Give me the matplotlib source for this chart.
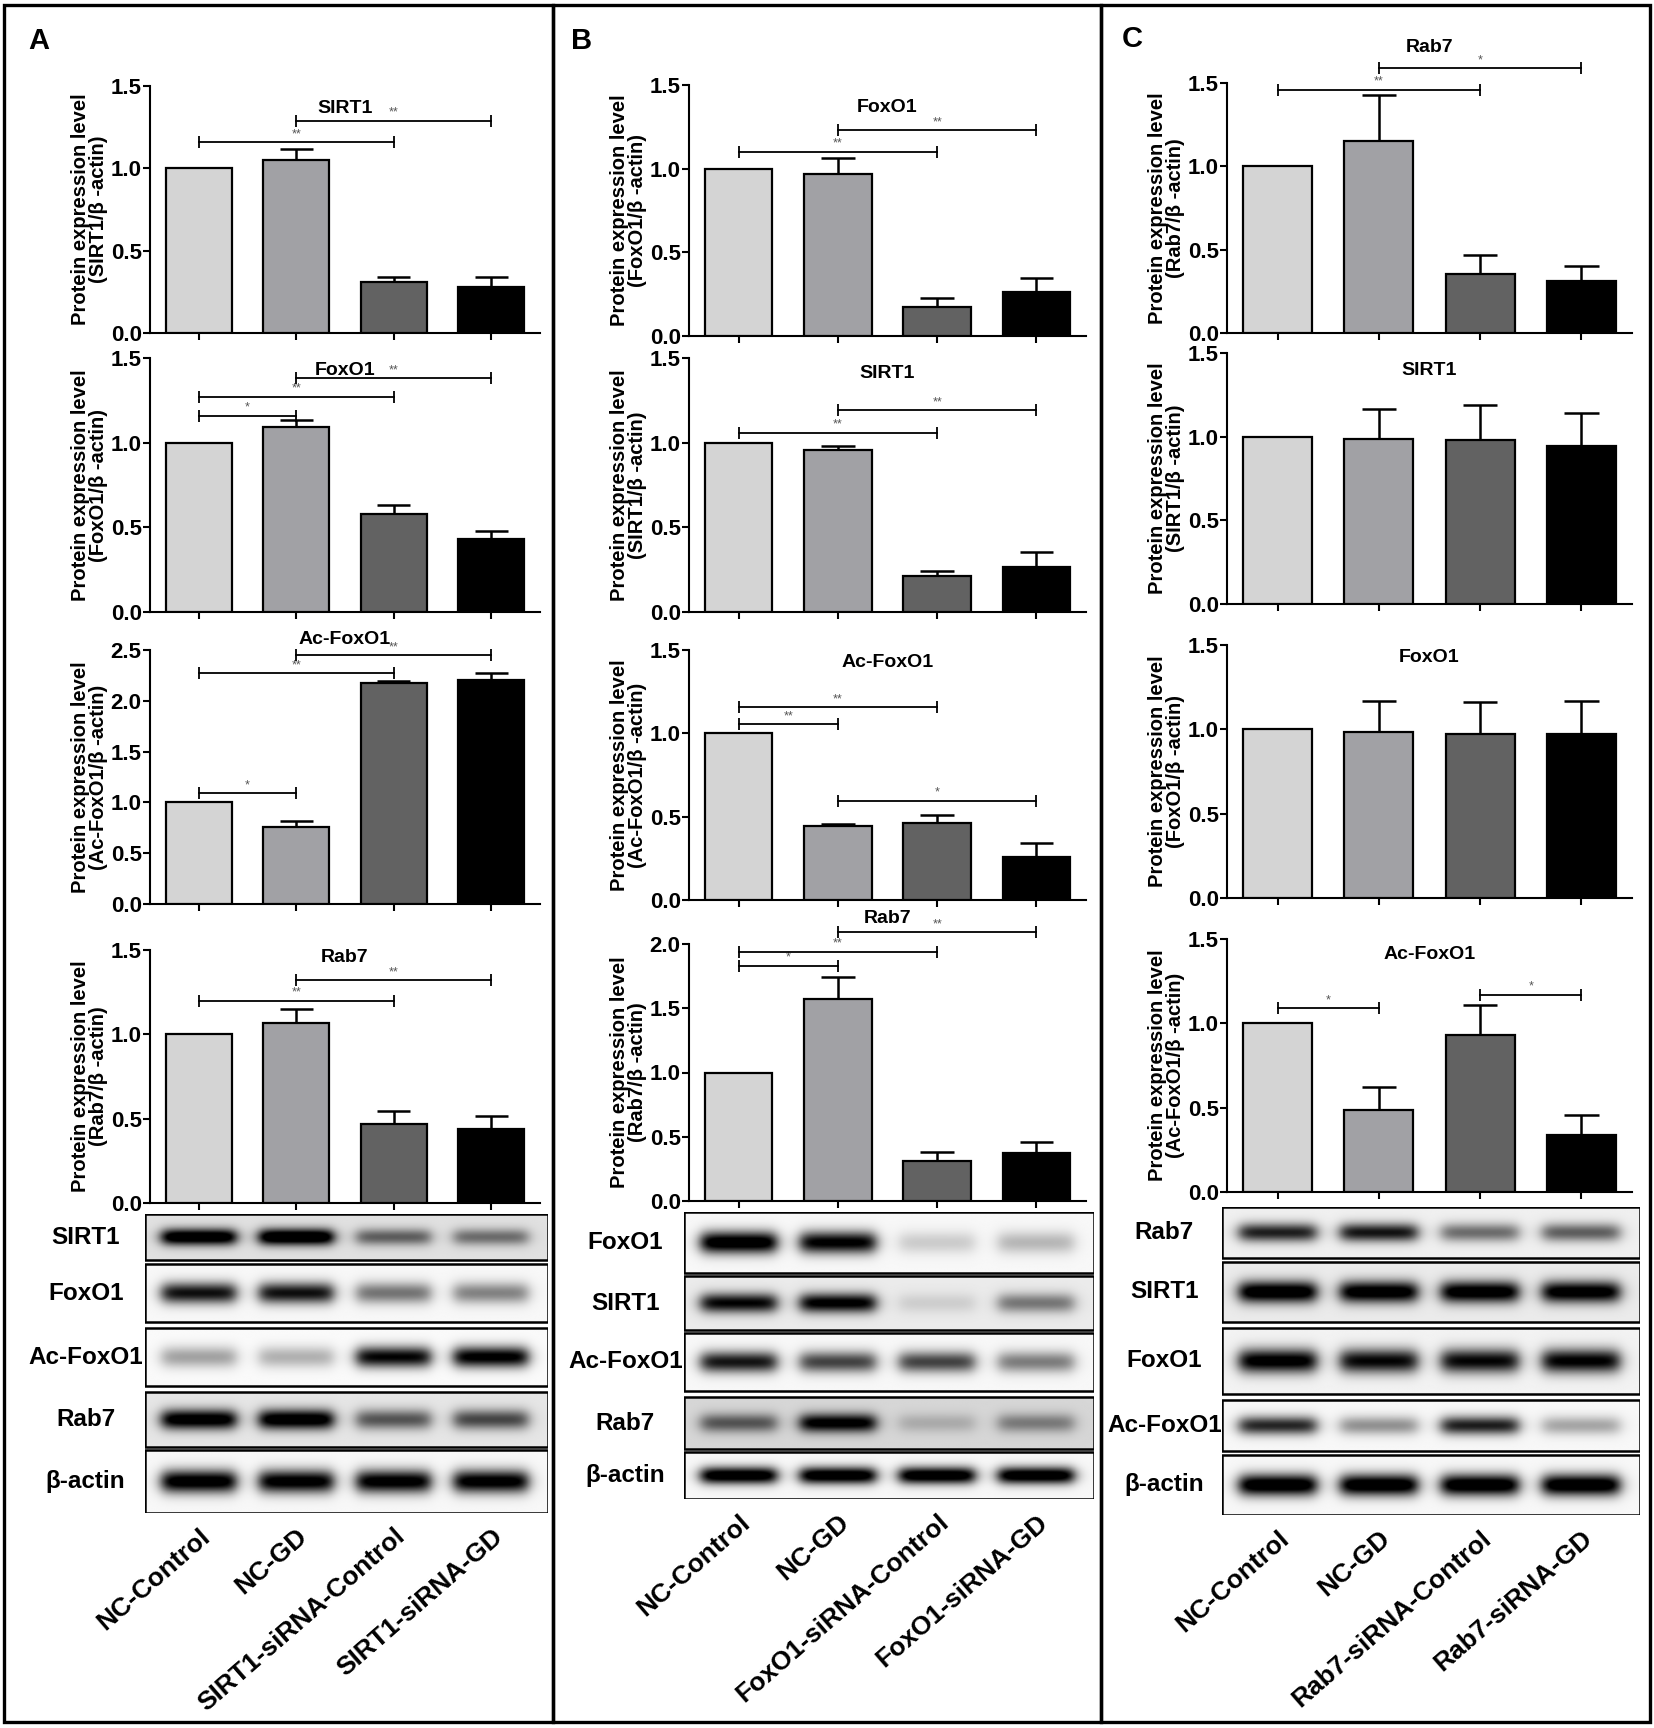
"""Recreate the SIRT1 / FoxO1 / Rab7 knock-down figure (bar charts + blots)."""

import numpy as np
import matplotlib

matplotlib.use("Agg")
import matplotlib.pyplot as plt
from matplotlib.patches import Rectangle

plt.rcParams["font.family"] = ["Liberation Sans", "DejaVu Sans"]
plt.rcParams["font.weight"] = "bold"
plt.rcParams["axes.labelweight"] = "bold"

W, H = 1654, 1728
BAR_COLORS = ["#d4d4d4", "#a1a1a5", "#626262", "#000000"]

# ---- groups -------------------------------------------------------------
GROUPS_A = ["NC-Control", "NC-GD", "SIRT1-siRNA-Control", "SIRT1-siRNA-GD"]
GROUPS_B = ["NC-Control", "NC-GD", "FoxO1-siRNA-Control", "FoxO1-siRNA-GD"]
GROUPS_C = ["NC-Control", "NC-GD", "Rab7-siRNA-Control", "Rab7-siRNA-GD"]

# ---- panel A bar data -----------------------------------------------------
A_SIRT1_MEAN = [1.00, 1.05, 0.31, 0.28]
A_SIRT1_ERR = [0.0, 0.07, 0.03, 0.06]
A_SIRT1_SIG = [(0, 2, 1.16, "**"), (1, 3, 1.29, "**")]

A_FOXO1_MEAN = [1.00, 1.09, 0.58, 0.43]
A_FOXO1_ERR = [0.0, 0.045, 0.05, 0.05]
A_FOXO1_SIG = [(0, 1, 1.16, "*"), (0, 2, 1.27, "**"), (1, 3, 1.38, "**")]

A_ACFOXO1_MEAN = [1.00, 0.76, 2.18, 2.20]
A_ACFOXO1_ERR = [0.0, 0.06, 0.015, 0.075]
A_ACFOXO1_SIG = [(0, 1, 1.09, "*"), (0, 2, 2.27, "**"), (1, 3, 2.45, "**")]

A_RAB7_MEAN = [1.00, 1.07, 0.47, 0.44]
A_RAB7_ERR = [0.0, 0.08, 0.075, 0.075]
A_RAB7_SIG = [(0, 2, 1.20, "**"), (1, 3, 1.32, "**")]

# ---- panel B bar data -----------------------------------------------------
B_FOXO1_MEAN = [1.00, 0.97, 0.175, 0.265]
B_FOXO1_ERR = [0.0, 0.095, 0.05, 0.08]
B_FOXO1_SIG = [(0, 2, 1.10, "**"), (1, 3, 1.23, "**")]

B_SIRT1_MEAN = [1.00, 0.955, 0.21, 0.265]
B_SIRT1_ERR = [0.0, 0.025, 0.03, 0.09]
B_SIRT1_SIG = [(0, 2, 1.06, "**"), (1, 3, 1.19, "**")]

B_ACFOXO1_MEAN = [1.00, 0.445, 0.46, 0.26]
B_ACFOXO1_ERR = [0.0, 0.01, 0.05, 0.08]
B_ACFOXO1_SIG = [(0, 1, 1.056, "**"), (0, 2, 1.156, "**"), (1, 3, 0.595, "*")]

B_RAB7_MEAN = [1.00, 1.57, 0.31, 0.37]
B_RAB7_ERR = [0.0, 0.17, 0.075, 0.09]
B_RAB7_SIG = [(0, 1, 1.83, "*"), (0, 2, 1.94, "**"), (1, 3, 2.09, "**")]

# ---- panel C bar data -----------------------------------------------------
C_RAB7_MEAN = [1.00, 1.15, 0.355, 0.31]
C_RAB7_ERR = [0.0, 0.28, 0.115, 0.095]
C_RAB7_SIG = [(0, 2, 1.46, "**"), (1, 3, 1.59, "*")]

C_SIRT1_MEAN = [1.00, 0.985, 0.98, 0.945]
C_SIRT1_ERR = [0.0, 0.18, 0.21, 0.195]
C_SIRT1_SIG = []

C_FOXO1_MEAN = [1.00, 0.985, 0.975, 0.97]
C_FOXO1_ERR = [0.0, 0.185, 0.19, 0.20]
C_FOXO1_SIG = []

C_ACFOXO1_MEAN = [1.00, 0.485, 0.93, 0.34]
C_ACFOXO1_ERR = [0.0, 0.14, 0.18, 0.115]
C_ACFOXO1_SIG = [(0, 1, 1.09, "*"), (2, 3, 1.17, "*")]

# ---- blot band darkness (0 = none, 1 = saturated) -------------------------
A_BLOT_NAMES = ["SIRT1", "FoxO1", "Ac-FoxO1", "Rab7", "β-actin"]
A_BLOT_SIRT1 = [0.95, 1.0, 0.45, 0.40]
A_BLOT_FOXO1 = [0.80, 0.80, 0.45, 0.40]
A_BLOT_ACFOXO1 = [0.30, 0.25, 0.85, 0.90]
A_BLOT_RAB7 = [0.90, 0.92, 0.50, 0.55]
A_BLOT_ACTIN = [0.95, 0.92, 0.92, 0.92]
A_BLOT_BG = [0.12, 0.03, 0.02, 0.10, 0.03]

B_BLOT_NAMES = ["FoxO1", "SIRT1", "Ac-FoxO1", "Rab7", "β-actin"]
B_BLOT_FOXO1 = [0.98, 0.88, 0.15, 0.22]
B_BLOT_SIRT1 = [0.80, 0.85, 0.10, 0.40]
B_BLOT_ACFOXO1 = [0.78, 0.62, 0.62, 0.42]
B_BLOT_RAB7 = [0.45, 0.80, 0.15, 0.32]
B_BLOT_ACTIN = [1.0, 1.0, 1.0, 1.0]
B_BLOT_BG = [0.03, 0.08, 0.03, 0.16, 0.03]

C_BLOT_NAMES = ["Rab7", "SIRT1", "FoxO1", "Ac-FoxO1", "β-actin"]
C_BLOT_RAB7 = [0.72, 0.76, 0.45, 0.50]
C_BLOT_SIRT1 = [0.95, 0.92, 0.92, 0.90]
C_BLOT_FOXO1 = [0.90, 0.82, 0.82, 0.85]
C_BLOT_ACFOXO1 = [0.72, 0.35, 0.75, 0.28]
C_BLOT_ACTIN = [1.0, 1.0, 1.0, 1.0]
C_BLOT_BG = [0.06, 0.08, 0.05, 0.03, 0.03]


def px_axes(fig, left, top, right, bottom):
    """Add axes given pixel edges measured from the top-left corner."""
    return fig.add_axes([left / W, 1 - bottom / H, (right - left) / W, (bottom - top) / H])


def draw_bars(ax, protein, means, errs, sig, ymax, title_y, width_px):
    x = np.arange(len(means))
    ax.bar(x, means, width=0.68, color=BAR_COLORS, edgecolor="black", linewidth=1.6, zorder=3)
    for xi, m, e in zip(x, means, errs):
        if e > 0:
            ax.vlines(xi, m, m + e, color="black", lw=1.8, zorder=2)
            ax.hlines(m + e, xi - 0.17, xi + 0.17, color="black", lw=1.8, zorder=2)
    for i, j, y, star in sig:
        ax.plot([i, j], [y, y], color="black", lw=1.3, clip_on=False, zorder=4)
        ax.plot([i, j], [y, y], ls="none", marker="|", ms=8, mew=1.3, color="black",
                clip_on=False, zorder=4)
        ax.text((i + j) / 2, y + ymax * 0.008, star, ha="center", va="bottom",
                fontsize=9, color="#555555", fontweight="normal")
    ax.text(0.5, title_y, protein, transform=ax.transAxes, ha="center", va="center",
            fontsize=14, fontweight="bold")

    ax.set_xlim(-0.5, 3.5)
    ax.set_ylim(0, ymax)
    ticks = np.arange(0, ymax + 0.01, 0.5)
    ax.set_yticks(ticks)
    ax.set_yticklabels([f"{t:.1f}" for t in ticks], fontsize=16, fontweight="bold")
    ax.set_xticks(x)
    ax.set_xticklabels([])
    ax.tick_params(axis="both", direction="out", length=5, width=1.5, pad=1)
    for side in ("top", "right"):
        ax.spines[side].set_visible(False)
    for side in ("left", "bottom"):
        ax.spines[side].set_linewidth(1.5)
    ax.set_ylabel(f"Protein expression level\n({protein}/β -actin)", fontsize=14.5,
                  fontweight="bold", linespacing=0.95)
    ax.yaxis.set_label_coords(-42.0 / width_px, 0.5)
    ax.patch.set_alpha(0)


def band_image(xs, ys, levels, bg):
    img = np.full((len(ys), len(xs)), bg)
    yprof = np.exp(-0.5 * ((ys - 0.5) / 0.13) ** 2)
    for i, lvl in enumerate(levels):
        xprof = 1 / (1 + np.exp(-(xs - (i - 0.38)) / 0.04)) / (1 + np.exp((xs - (i + 0.38)) / 0.04))
        img += 1.15 * lvl * np.outer(yprof, xprof)
    return np.clip(img, 0, 1)


def draw_blots(fig, left, right, rows, names, levels, bgs, groups, label_x):
    unit = (right - left) / 4.0
    bl, br = left - 5, right + 8
    top, bottom = rows[0][0], rows[-1][1]
    ax = px_axes(fig, bl, top, br, bottom)
    x0, x1 = -0.5 - 5 / unit, 3.5 + 8 / unit
    xs = np.linspace(x0, x1, 500)
    ys = np.linspace(0, 1, 80)
    for (rt, rb), name, lv, bg in zip(rows, names, levels, bgs):
        ax.imshow(band_image(xs, ys, lv, bg), extent=(x0, x1, rb, rt), cmap="gray_r",
                  vmin=0, vmax=1, aspect="auto", interpolation="bilinear", zorder=1)
        ax.add_patch(Rectangle((x0 + 0.004, rt), x1 - x0 - 0.008, rb - rt, fill=False,
                               lw=1.8, edgecolor="black", zorder=2))
        ax.text(label_x, (rt + rb) / 2, name, ha="center", va="center", fontsize=17.5,
                fontweight="bold", clip_on=False)
    ax.set_xlim(x0, x1)
    ax.set_ylim(bottom, top)
    for s in ax.spines.values():
        s.set_visible(False)
    ax.set_yticks([])
    ax.set_xticks(np.arange(4))
    ax.set_xticklabels(groups, rotation=41, ha="right", va="top", rotation_mode="anchor",
                       fontsize=19, fontweight="bold")
    ax.tick_params(axis="x", length=0, pad=8)
    ax.patch.set_alpha(0)


fig = plt.figure(figsize=(W / 100, H / 100), dpi=100)

# ---- panel A -------------------------------------------------------------
AL, AR = 150, 540
AW = AR - AL
draw_bars(px_axes(fig, AL, 86, AR, 333), "SIRT1", A_SIRT1_MEAN, A_SIRT1_ERR, A_SIRT1_SIG, 1.5, 0.91, AW)
draw_bars(px_axes(fig, AL, 358, AR, 612), "FoxO1", A_FOXO1_MEAN, A_FOXO1_ERR, A_FOXO1_SIG, 1.5, 0.95, AW)
draw_bars(px_axes(fig, AL, 650, AR, 904), "Ac-FoxO1", A_ACFOXO1_MEAN, A_ACFOXO1_ERR, A_ACFOXO1_SIG, 2.5, 1.04, AW)
draw_bars(px_axes(fig, AL, 950, AR, 1203), "Rab7", A_RAB7_MEAN, A_RAB7_ERR, A_RAB7_SIG, 1.5, 0.97, AW)
draw_blots(fig, AL, AR,
           [(1214, 1260), (1264, 1322), (1328, 1386), (1392, 1447), (1450, 1513)],
           A_BLOT_NAMES,
           [A_BLOT_SIRT1, A_BLOT_FOXO1, A_BLOT_ACFOXO1, A_BLOT_RAB7, A_BLOT_ACTIN],
           A_BLOT_BG, GROUPS_A, -1.16)

# ---- panel B -------------------------------------------------------------
BL, BR = 689, 1086
BW = BR - BL
draw_bars(px_axes(fig, BL, 85, BR, 336), "FoxO1", B_FOXO1_MEAN, B_FOXO1_ERR, B_FOXO1_SIG, 1.5, 0.91, BW)
draw_bars(px_axes(fig, BL, 358, BR, 612), "SIRT1", B_SIRT1_MEAN, B_SIRT1_ERR, B_SIRT1_SIG, 1.5, 0.94, BW)
draw_bars(px_axes(fig, BL, 650, BR, 900), "Ac-FoxO1", B_ACFOXO1_MEAN, B_ACFOXO1_ERR, B_ACFOXO1_SIG, 1.5, 0.95, BW)
draw_bars(px_axes(fig, BL, 944, BR, 1201), "Rab7", B_RAB7_MEAN, B_RAB7_ERR, B_RAB7_SIG, 2.0, 1.10, BW)
draw_blots(fig, BL, BR,
           [(1212, 1273), (1276, 1330), (1333, 1391), (1397, 1449), (1452, 1499)],
           B_BLOT_NAMES,
           [B_BLOT_FOXO1, B_BLOT_SIRT1, B_BLOT_ACFOXO1, B_BLOT_RAB7, B_BLOT_ACTIN],
           B_BLOT_BG, GROUPS_B, -1.14)

# ---- panel C -------------------------------------------------------------
CL, CR = 1227, 1632
CW = CR - CL
draw_bars(px_axes(fig, CL, 83, CR, 333), "Rab7", C_RAB7_MEAN, C_RAB7_ERR, C_RAB7_SIG, 1.5, 1.14, CW)
draw_bars(px_axes(fig, CL, 353, CR, 604), "SIRT1", C_SIRT1_MEAN, C_SIRT1_ERR, C_SIRT1_SIG, 1.5, 0.93, CW)
draw_bars(px_axes(fig, CL, 645, CR, 898), "FoxO1", C_FOXO1_MEAN, C_FOXO1_ERR, C_FOXO1_SIG, 1.5, 0.95, CW)
draw_bars(px_axes(fig, CL, 939, CR, 1192), "Ac-FoxO1", C_ACFOXO1_MEAN, C_ACFOXO1_ERR, C_ACFOXO1_SIG, 1.5, 0.94, CW)
draw_blots(fig, CL, CR,
           [(1207, 1258), (1262, 1322), (1328, 1394), (1400, 1451), (1455, 1515)],
           C_BLOT_NAMES,
           [C_BLOT_RAB7, C_BLOT_SIRT1, C_BLOT_FOXO1, C_BLOT_ACFOXO1, C_BLOT_ACTIN],
           C_BLOT_BG, GROUPS_C, -1.12)

# ---- panel frames and letters ---------------------------------------------
for left, right in [(4, 553), (553, 1101), (1101, 1650)]:
    fig.add_artist(Rectangle((left / W, 1 - 1722 / H), (right - left) / W, (1722 - 5) / H,
                             transform=fig.transFigure, fill=False, lw=2.4, edgecolor="black"))
for letter, lx, ly in [("A", 39, 41), ("B", 582, 41), ("C", 1132, 39)]:
    fig.text(lx / W, 1 - ly / H, letter, ha="center", va="center", fontsize=21, fontweight="bold")

fig.savefig("out.png", dpi=100)
